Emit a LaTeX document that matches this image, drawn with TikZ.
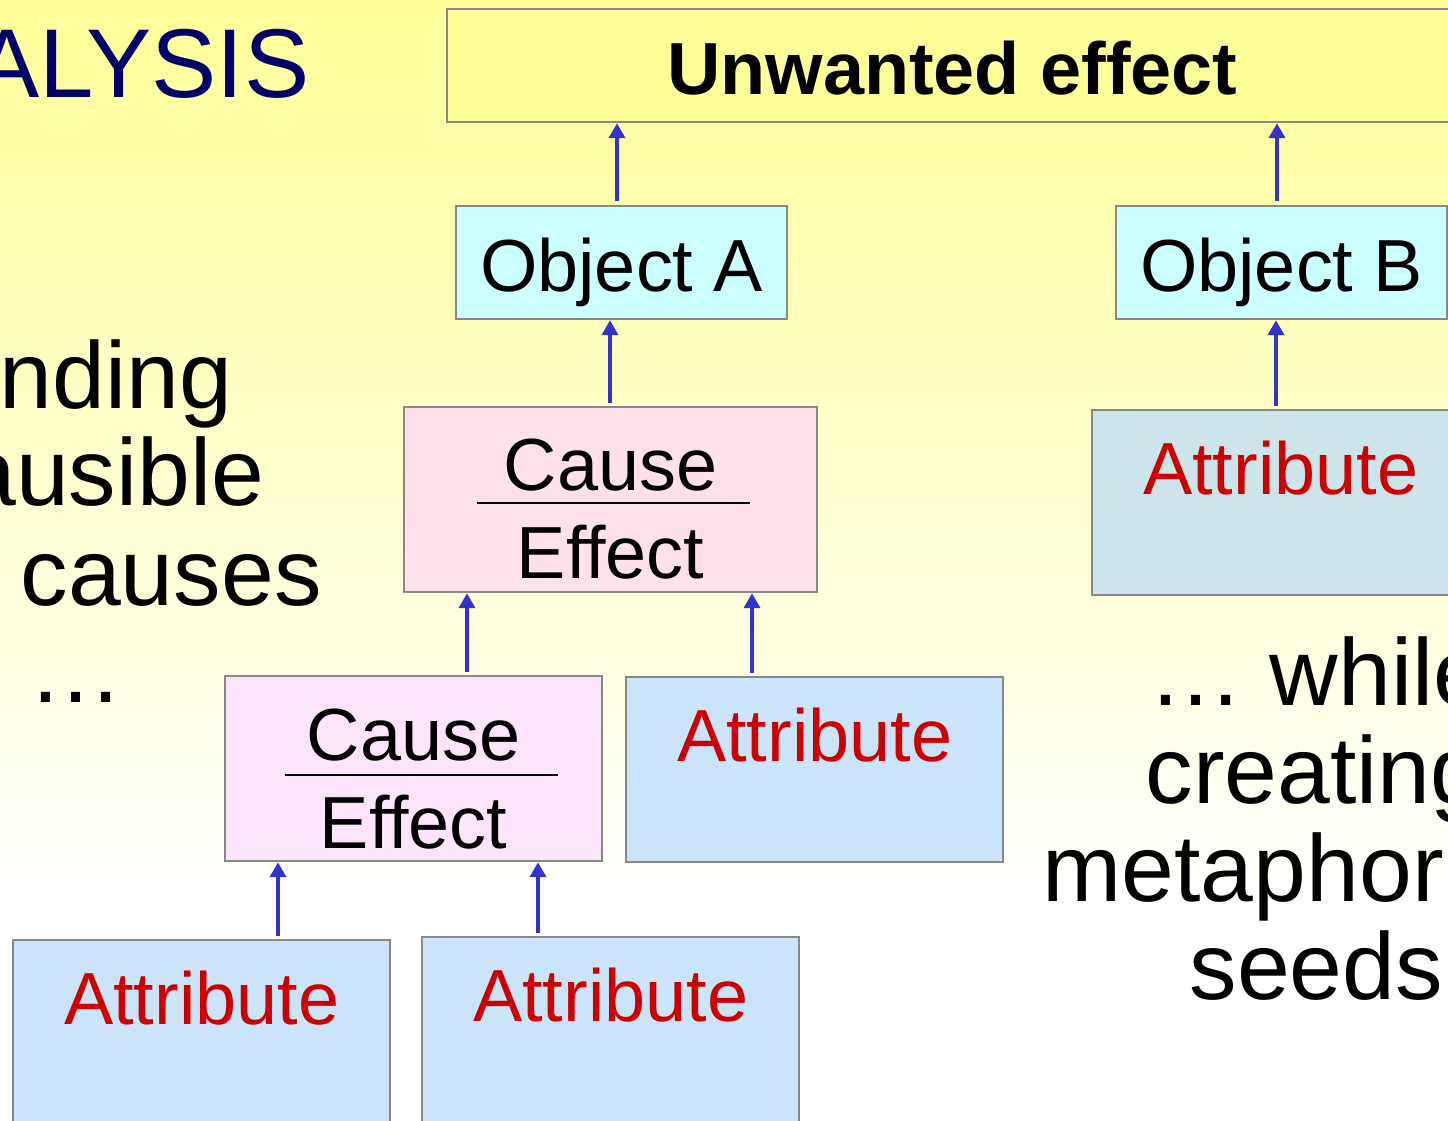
\documentclass[tikz,border=0pt]{standalone}
\usepackage{fontspec}
\setmainfont{Liberation Sans}
\usetikzlibrary{arrows.meta}

\definecolor{slideyellow}{HTML}{FFFF99}
\definecolor{objcyan}{HTML}{CCFFFF}
\definecolor{pinkA}{HTML}{FFE1EB}
\definecolor{pinkB}{HTML}{FCE4FA}
\definecolor{attrgrey}{HTML}{CDE4EA}
\definecolor{attrblue}{HTML}{CCE4F9}
\definecolor{attrred}{HTML}{CC0000}
\definecolor{arrowblue}{HTML}{3333CC}
\definecolor{titlenavy}{HTML}{000066}
\definecolor{boxgrey}{HTML}{888888}

\begin{document}
\begin{tikzpicture}[x=0.01cm, y=-0.01cm,
    box/.style={draw=boxgrey, line width=0.6pt, inner sep=0pt, anchor=north west,
                font=\fontsize{21}{25}\selectfont},
    objbox/.style={box, fill=objcyan, text height=0.85cm, text depth=0.28cm, minimum width=3.31cm},
    attrbox/.style={box, text=attrred, text height=0.84cm, text depth=1.01cm, minimum width=3.77cm},
    cebox/.style={box, minimum height=1.85cm},
    cetext/.style={inner sep=0pt, anchor=base, font=\fontsize{21}{25}\selectfont},
    bigtext/.style={inner sep=0pt, font=\fontsize{27}{32}\selectfont},
    arr/.style={arrowblue, line width=1.3pt, shorten <=1pt,
                -{Triangle[length=0.15cm,width=0.16cm]}}]

        % Slide background, cut to the visible part
        \clip (0,0) rectangle (1448,1120);
        \fill[top color=slideyellow, bottom color=white] (0,0) rectangle (1448,900);
        \fill[white] (0,900) rectangle (1448,1120);

        % Title and the remarks on both sides
        \node[bigtext, anchor=base east, text=titlenavy, font=\fontsize{27.8}{33}\selectfont] (title) at (310,97) {ALYSIS};
        \node[bigtext, anchor=base east] (left1) at (233,408) {nding};
        \node[bigtext, anchor=base east] (left2) at (265,505) {ausible};
        \node[bigtext, anchor=base west] (left3) at (20,605) {causes};
        \node[bigtext, anchor=base west] (left4) at (28,702) {…};
        \node[bigtext, anchor=base west] (right1) at (1148,705) {… while};
        \node[bigtext, anchor=base west] (right2) at (1145,803) {creating};
        \node[bigtext, anchor=base west] (right3) at (1042,901) {metaphor};
        \node[bigtext, anchor=base west] (right4) at (1189,999) {seeds};

        % The effect and the objects
        \node[box, fill=slideyellow, font=\bfseries\fontsize{21}{25}\selectfont,
              text height=0.85cm, text depth=0.28cm, minimum width=10.1cm] (unwanted) at (446,8) {Unwanted effect};
        \node[objbox] (objA) at (455,205) {Object A};
        \node[objbox] (objB) at (1115,205) {Object B};

        % Upper cause/effect box
        \node[cebox, fill=pinkA, minimum width=4.13cm] (ce1) at (403,406) {};
        \node[cetext] (ce1c) at ([yshift=-0.84cm]ce1.north) {Cause};
        \draw[line width=0.6pt] ([xshift=-1.335cm,yshift=-0.97cm]ce1.north) -- ([xshift=1.395cm,yshift=-0.97cm]ce1.north);
        \node[cetext] (ce1e) at ([yshift=-1.72cm]ce1.north) {Effect};

        % Lower cause/effect box
        \node[cebox, fill=pinkB, minimum width=3.77cm] (ce2) at (224,675) {};
        \node[cetext] (ce2c) at ([yshift=-0.85cm]ce2.north) {Cause};
        \draw[line width=0.6pt] ([xshift=-1.285cm,yshift=-1.0cm]ce2.north) -- ([xshift=1.445cm,yshift=-1.0cm]ce2.north);
        \node[cetext] (ce2e) at ([yshift=-1.73cm]ce2.north) {Effect};

        % Attributes
        \node[attrbox, fill=attrgrey] (attrB) at (1091,409) {Attribute};
        \node[attrbox, fill=attrblue] (attr1) at (625,676) {Attribute};
        \node[attrbox, fill=attrblue] (attr2) at (12,939) {Attribute};
        \node[attrbox, fill=attrblue] (attr3) at (421,936) {Attribute};

        % Arrows up the chain
        \draw[arr] (objA.north -| 617,0) -- (unwanted.south -| 617,0);
        \draw[arr] (objB.north -| 1277,0) -- (unwanted.south -| 1277,0);
        \draw[arr] (ce1.north -| 610,0) -- (objA.south -| 610,0);
        \draw[arr] (attrB.north -| 1276,0) -- (objB.south -| 1276,0);
        \draw[arr] (ce2.north -| 467,0) -- (ce1.south -| 467,0);
        \draw[arr] (attr1.north -| 752,0) -- (ce1.south -| 752,0);
        \draw[arr] (attr2.north -| 278,0) -- (ce2.south -| 278,0);
        \draw[arr] (attr3.north -| 538,0) -- (ce2.south -| 538,0);

    \end{tikzpicture}
\end{document}
